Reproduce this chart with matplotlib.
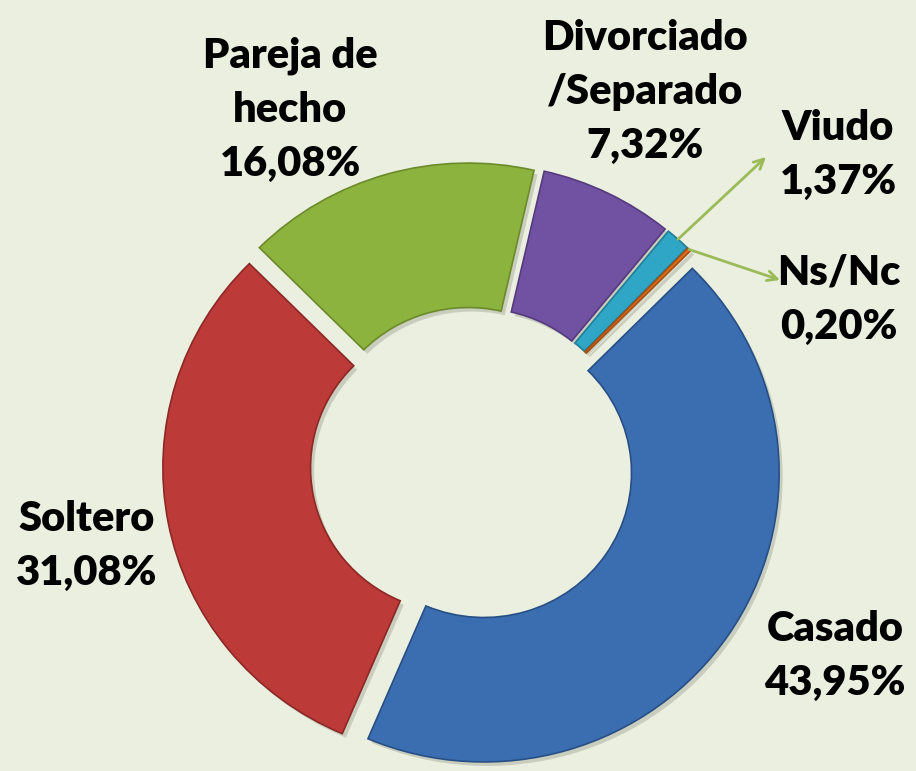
import matplotlib
matplotlib.use('Agg')
import matplotlib.pyplot as plt
import numpy as np

# Data (clockwise from the top-left)
categories = ['Pareja de\nhecho', 'Divorciado\n/Separado', 'Viudo', 'Ns/Nc', 'Casado', 'Soltero']
values = [16.08, 7.32, 1.37, 0.20, 43.95, 31.08]
pct_labels = ['16,08%', '7,32%', '1,37%', '0,20%', '43,95%', '31,08%']
colors = ['#8DB33F', '#7151A1', '#2FA6C6', '#E0701C', '#3A6EB1', '#BC3A38']
edge_colors = ['#6B8A2A', '#553A7E', '#1F7E98', '#A84F10', '#284F85', '#8C2826']

BG = '#EBEFDF'
plt.rcParams['font.family'] = ['Lato', 'DejaVu Sans']

W, H = 916, 771
fig = plt.figure(figsize=(W / 100, H / 100), dpi=100, facecolor=BG)
ax = fig.add_axes([0, 0, 1, 1])
ax.set_facecolor(BG)

# soft shadow underneath
ax.pie(values, startangle=135, counterclock=False, radius=1.0,
       explode=[0.048] * len(values), center=(0.012, -0.014),
       colors=['#C9CDBE'] * len(values),
       wedgeprops=dict(width=0.5, linewidth=0))

wedges, _ = ax.pie(values, startangle=135, counterclock=False, radius=1.0,
                   explode=[0.048] * len(values), colors=colors,
                   wedgeprops=dict(width=0.5, linewidth=1.2))
for w, ec in zip(wedges, edge_colors):
    w.set_edgecolor(ec)

ax.set_aspect('auto')
ax.set_xlim(-1.5987, 1.5032)
ax.set_ylim(-1.0582, 1.6106)
ax.axis('off')

def fx(px):
    return px / W

def fy(py):
    return 1 - py / H

# label positions in pixels (centre of text block)
label_pos = [(290, 110), (645, 92), (838, 155), (839, 300), (835, 656), (87, 546)]
for cat, pct, (px, py) in zip(categories, pct_labels, label_pos):
    fig.text(fx(px), fy(py), cat + '\n' + pct, ha='center', va='center',
             fontsize=30, fontweight='heavy', color='black', linespacing=1.52)

# arrows for the two small slices
arrow_ends = {2: (766, 157), 3: (780, 280)}
for i, (ex, ey) in arrow_ends.items():
    w = wedges[i]
    mid = np.deg2rad((w.theta1 + w.theta2) / 2)
    sx = w.center[0] + w.r * np.cos(mid)
    sy = w.center[1] + w.r * np.sin(mid)
    ax.annotate('', xy=(fx(ex), fy(ey)), xycoords='figure fraction',
                xytext=(sx, sy), textcoords='data',
                arrowprops=dict(arrowstyle='->,head_length=0.7,head_width=0.35',
                                color='#9BBB59', lw=2, shrinkA=0, shrinkB=0))

fig.savefig('out.png', dpi=100, facecolor=BG)
